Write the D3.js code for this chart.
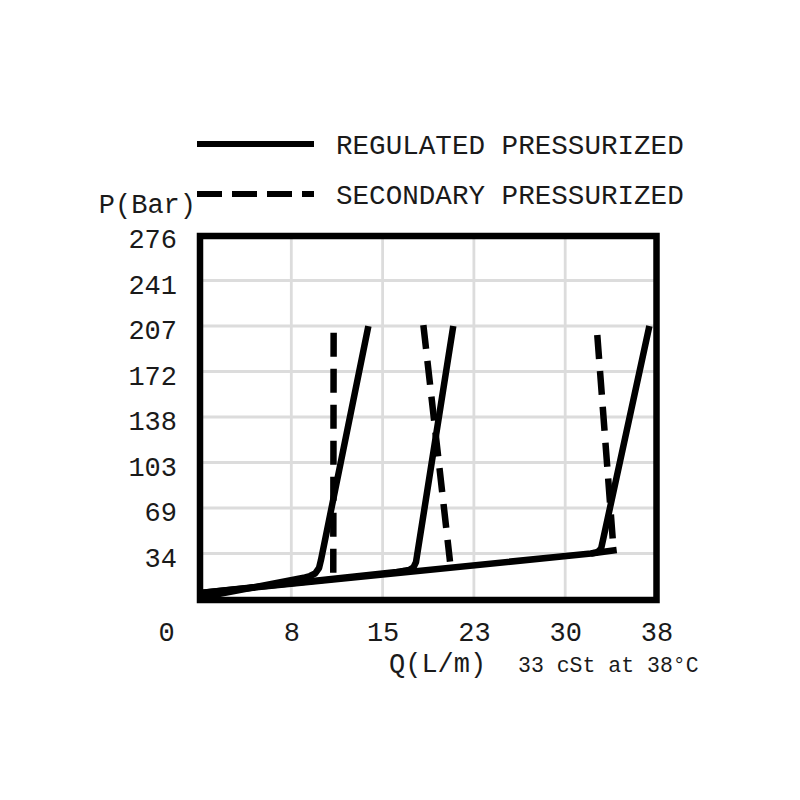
<!DOCTYPE html>
<html>
<head>
<meta charset="utf-8">
<script src="https://cdn.jsdelivr.net/npm/d3@7"></script>
<style>
	body { margin: 0; background: #fff; }
	text { font-family: "Liberation Mono", "Courier New", monospace; fill: #1a1a1a; }
</style>
</head>
<body>
<svg id="vis" width="800" height="800"></svg>
<script>
// flow in L/m, pressure in bar (chart is really 0-10 gpm / 0-4000 psi)
const xTicks = [0, 7.57, 15.14, 22.71, 30.28, 37.85];
const xLabels = ["0", "8", "15", "23", "30", "38"];
const yTicks = [34.47, 68.95, 103.42, 137.9, 172.37, 206.84, 241.32, 275.79];
const yLabels = ["34", "69", "103", "138", "172", "207", "241", "276"];

// regulated pressurized curves [Q, P]
const regulated1 = [[0, 1], [8.71, 16.4], [9.12, 17.4], [9.54, 19.3], [9.87, 23.5], [10.03, 29.5], [13.96, 206.8]];
const regulated2 = [[0, 4.5], [16.31, 20.5], [16.83, 21.2], [17.33, 22.0], [17.7, 23.9], [17.91, 28.0], [21.0, 206.8]];
const regulated3 = [[0, 4.5], [32.42, 34.5], [32.84, 35.2], [33.08, 36.4], [33.27, 38.6], [37.26, 206.8]];
const regulatedTail = [[32.42, 34.5], [34.55, 37.1]];

// secondary pressurized curves, drawn top down
const secondary1 = [[11.08, 201.7], [11.05, 19.7]];
const secondary2 = [[18.52, 207.5], [20.73, 28.3]];
const secondary3 = [[32.94, 200], [34.27, 39.6]];

const legendNames = ["REGULATED PRESSURIZED", "SECONDARY PRESSURIZED"];

const svg = d3.select("#vis");

const x = d3.scaleLinear().domain([0, 37.85]).range([200, 656.5]);
const y = d3.scaleLinear().domain([0, 275.79]).range([599, 235]);

// grid
const grid = svg.append("g").attr("class", "grid");
grid.selectAll("line.v")
	.data(xTicks.slice(1, -1))
	.join("line")
	.attr("x1", d => x(d)).attr("x2", d => x(d))
	.attr("y1", y.range()[1]).attr("y2", y.range()[0])
	.attr("stroke", "#dcdcdc").attr("stroke-width", 2.8);
grid.selectAll("line.h")
	.data(yTicks.slice(0, -1))
	.join("line")
	.attr("y1", d => y(d)).attr("y2", d => y(d))
	.attr("x1", x.range()[0]).attr("x2", x.range()[1])
	.attr("stroke", "#dcdcdc").attr("stroke-width", 2.8);

// axes (text only)
const xAxis = svg.append("g")
	.attr("transform", translate(0, 622))
	.call(d3.axisBottom(x).tickValues(xTicks).tickSize(0).tickPadding(0)
		.tickFormat((d, i) => xLabels[i]));
const yAxis = svg.append("g")
	.attr("transform", translate(177, 4))
	.call(d3.axisLeft(y).tickValues(yTicks).tickSize(0).tickPadding(0)
		.tickFormat((d, i) => yLabels[i]));

[xAxis, yAxis].forEach(a => {
	a.select(".domain").remove();
	a.selectAll("text").style("font-size", "27px").attr("fill", "#1a1a1a");
	a.attr("font-family", null).attr("font-size", null);
});
xAxis.selectAll(".tick").filter(d => d === 0).select("text").attr("dx", -34);

// curves
const line = d3.line().x(d => x(d[0])).y(d => y(d[1]));
const curves = svg.append("g").attr("fill", "none").attr("stroke", "#000")
	.attr("stroke-linejoin", "round");

curves.selectAll("path.reg")
	.data([regulated1, regulated2, regulated3, regulatedTail])
	.join("path")
	.attr("class", "reg")
	.attr("d", line)
	.attr("stroke-width", 6.5);

curves.selectAll("path.sec")
	.data([secondary1, secondary2, secondary3])
	.join("path")
	.attr("class", "sec")
	.attr("d", line)
	.attr("stroke-width", 6.5)
	.attr("stroke-dasharray", "24,12");

// frame
svg.append("rect")
	.attr("x", x.range()[0]).attr("y", y.range()[1] + 1)
	.attr("width", x.range()[1] - x.range()[0])
	.attr("height", y.range()[0] - y.range()[1])
	.attr("fill", "none").attr("stroke", "#000").attr("stroke-width", 6.5);

// legend
const legend = svg.append("g");
const items = legend.selectAll("g")
	.data(legendNames)
	.join("g")
	.attr("transform", (d, i) => translate(0, 144 + i * 50));
items.append("line")
	.attr("x1", 197).attr("x2", 314)
	.attr("stroke", "#000").attr("stroke-width", 6)
	.attr("stroke-dasharray", (d, i) => i ? "25,10" : null);
items.append("text")
	.attr("x", 336).attr("dy", "0.35em")
	.style("font-size", "27.6px")
	.text(d => d);

// axis titles
svg.append("text").attr("x", 196).attr("y", 204).attr("dy", "0.35em")
	.attr("text-anchor", "end").style("font-size", "27px").text("P(Bar)");
svg.append("text").attr("x", 389).attr("y", 663).attr("dy", "0.35em")
	.style("font-size", "27px").text("Q(L/m)");
svg.append("text").attr("x", 518).attr("y", 664).attr("dy", "0.35em")
	.style("font-size", "21.5px").text("33 cSt at 38°C");

function translate(x, y) {
	return "translate(" + x + "," + y + ")";
}
</script>
</body>
</html>
